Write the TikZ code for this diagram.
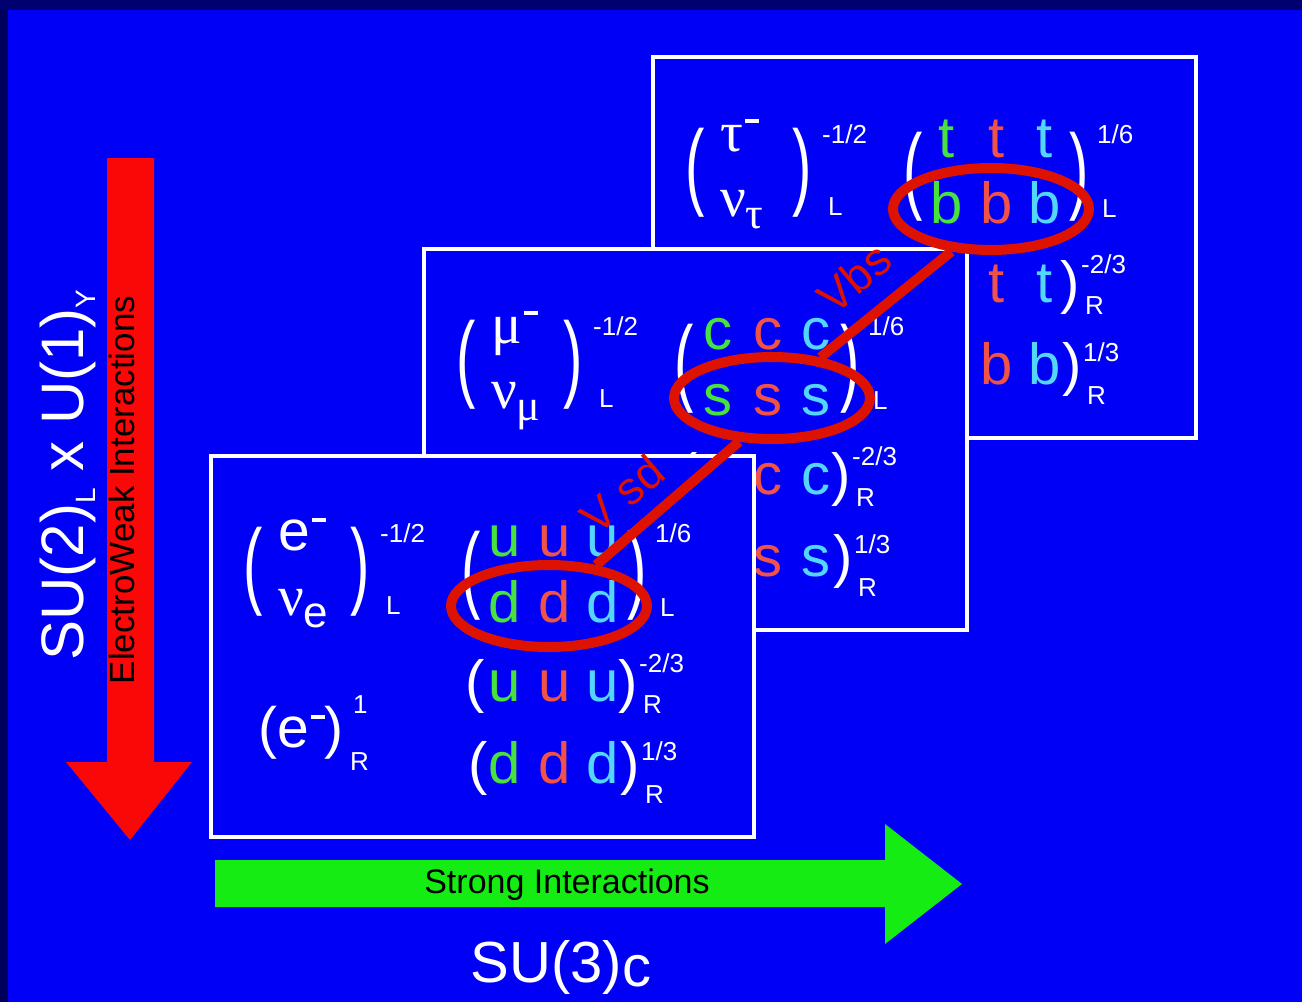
\documentclass[tikz,border=0pt]{standalone}
\usepackage{fontspec}
\setmainfont{Liberation Sans}
\newfontfamily\grk{Liberation Serif}
\usepackage{graphicx}
\usetikzlibrary{shapes.geometric}

\definecolor{bgblue}{RGB}{0,0,246}
\definecolor{edgetop}{RGB}{0,0,112}
\definecolor{edgeleft}{RGB}{0,0,92}
\definecolor{qg}{RGB}{72,226,62}
\definecolor{qr}{RGB}{240,82,70}
\definecolor{qc}{RGB}{84,214,250}
\definecolor{ringred}{RGB}{222,18,0}
\definecolor{ewred}{RGB}{250,8,8}
\definecolor{strgreen}{RGB}{20,236,20}

\newcommand\fs[1]{\fontsize{#1}{#1}\selectfont}
\newcommand\negbar{\kern2pt\rule[28pt]{14pt}{4.5pt}}
\newcommand\tallL{\scalebox{1}[1.65]{(}}
\newcommand\tallR{\scalebox{1}[1.65]{)}}

\tikzset{
  famframe/.style={draw=white, line width=3.5pt, fill=bgblue, minimum width=543pt,
    minimum height=381pt, anchor=north west, inner sep=0pt},
  tallparen/.style={text=white, inner sep=0pt, font=\fs{58}},
  lepton/.style={text=white, inner sep=0pt, anchor=base west, font=\fs{57}},
  quarks/.style={inner sep=0pt, anchor=base, font=\fs{58}},
  index/.style={text=white, inner sep=0pt, anchor=base west, font=\fs{26}},
  ring/.style={ellipse, draw=ringred, line width=10pt, minimum width=196pt,
    minimum height=82pt, inner sep=0pt},
  link/.style={draw=ringred, line width=10pt},
  ckm/.style={text=ringred, inner sep=0pt, font=\fs{46}, rotate=40},
}

% three colour copies of one quark: #1 name prefix, #2 baseline, #3 letter
\newcommand\colourrow[3]{%
  \node[quarks, text=qg] (#1g) at (296,#2) {#3};
  \node[quarks, text=qr] (#1r) at (346,#2) {#3};
  \node[quarks, text=qc] (#1c) at (394,#2) {#3};}

% one fermion family: #1 prefix, #2/#3 top-left corner, #4 charged lepton,
% #5 neutrino flavour, #6 up-type quark, #7 down-type quark
\newcommand\generation[7]{%
  \begin{scope}[shift={(#2,#3)}]
    \node[famframe] (#1frame) at (0,0) {};
    % left-handed lepton doublet
    \node[tallparen] (#1lepl) at (44,118) {\tallL};
    \node[tallparen] (#1lepr) at (151,118) {\tallR};
    \node[lepton] (#1chg) at (69,96) {#4\negbar};
    \node[lepton] (#1neu) at (69,161) {{\grk ν}\raisebox{-12pt}{\fs{44}#5}};
    \node[index] (#1lhyp) at (171,88) {-1/2};
    \node[index] (#1lchi) at (177,160) {L};
    % left-handed quark doublet
    \node[tallparen] (#1qdl) at (262,122) {\tallL};
    \node[tallparen] (#1qdr) at (428,122) {\tallR};
    \colourrow{#1up}{102}{#6}
    \colourrow{#1dn}{168}{#7}
    \node[index] (#1qhyp) at (446,88) {1/6};
    \node[index] (#1qchi) at (451,162) {L};
    % right-handed up-type singlets
    \node[quarks, text=white] (#1upRl) at (266,247) {(};
    \colourrow{#1upR}{247}{#6}
    \node[quarks, text=white] (#1upRr) at (419,247) {)};
    \node[index] (#1upRhyp) at (430,218) {-2/3};
    \node[index] (#1upRchi) at (434,259) {R};
    % right-handed down-type singlets
    \node[quarks, text=white] (#1dnRl) at (269,329) {(};
    \colourrow{#1dnR}{329}{#7}
    \node[quarks, text=white] (#1dnRr) at (421,329) {)};
    \node[index] (#1dnRhyp) at (432,306) {1/3};
    \node[index] (#1dnRchi) at (436,349) {R};
  \end{scope}}

\begin{document}
\begin{tikzpicture}[x=1pt, y=-1pt]
\useasboundingbox (0,0) rectangle (1302,1002);
\fill[bgblue] (0,0) rectangle (1302,1002);
\fill[edgetop] (0,0) rectangle (1302,10);
\fill[edgeleft] (0,10) rectangle (8,1002);

% electroweak direction
\fill[ewred] (107,158) -- (154,158) -- (154,762) -- (192,762) -- (130,840)
  -- (66,762) -- (107,762) -- cycle;
\node[rotate=90, text=black, font=\fs{35}, inner sep=0pt, anchor=base] (ewlabel)
  at (134,490) {ElectroWeak Interactions};
\node[rotate=90, text=white, font=\fs{60}, inner sep=0pt, anchor=base] (ewgroup)
  at (83,475) {SU(2)\raisebox{-12pt}{\fs{28}L} x U(1)\raisebox{-12pt}{\fs{28}Y}};

% strong direction
\fill[strgreen] (215,860) -- (885,860) -- (885,824) -- (962,884) -- (885,944)
  -- (885,907) -- (215,907) -- cycle;
\node[text=black, font=\fs{34}, inner sep=0pt, anchor=base] (stlabel)
  at (567,893) {Strong Interactions};
\node[text=white, font=\fs{58}, inner sep=0pt, anchor=base] (stgroup)
  at (561,982) {SU(3)\raisebox{-4pt}{c}};

% the three families, back to front
\generation{t}{651}{55}{{\grk τ}}{{\grk τ}}{t}{b}
\generation{m}{422}{247}{{\grk μ}}{{\grk μ}}{c}{s}
\generation{e}{209}{454}{e}{e}{u}{d}
\node[lepton, anchor=base west] (eRlep) at (258,747) {(e\negbar)};
\node[index] (eRchi) at (350,770) {R};
\node[index] (eRhyp) at (353,713) {1};

% down-type mixing
\node[ring] (rb) at (991,209) {};
\node[ring] (rs) at (772,398) {};
\node[ring] (rd) at (549,606) {};
\draw[link] (rd.41) -- (rs.233);
\draw[link] (rs.40) -- (rb.227);
\node[ckm] (vsd) at (622,494) {V sd};
\node[ckm] (vbs) at (854,278) {Vbs};
\end{tikzpicture}
\end{document}
